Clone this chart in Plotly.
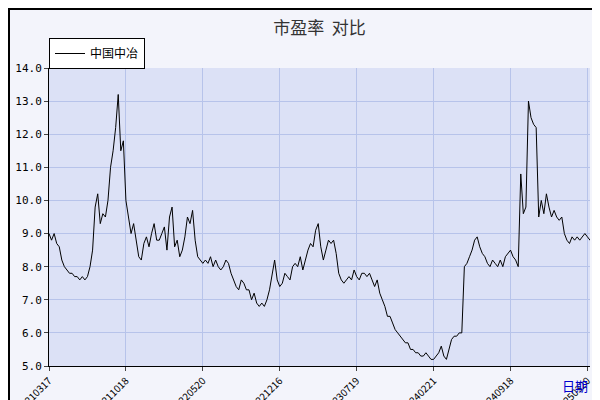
import plotly.graph_objects as go

values = [9.0,8.8,9.0,8.7,8.6,
8.2,8.0,7.9,7.8,7.8,7.7,7.7,7.6,7.7,7.6,
7.7,8.0,8.5,9.8,10.2,
9.3,9.6,9.5,10.0,
11.0,11.5,12.2,13.2,
11.5,11.8,10.0,
9.5,9.0,9.3,8.8,
8.3,8.2,8.7,8.9,8.6,9.0,9.3,8.8,
8.8,9.0,9.2,8.5,9.5,9.8,8.6,8.8,8.3,
8.5,8.9,9.5,9.3,9.7,8.8,8.3,8.2,8.1,
8.2,8.1,8.3,8.0,8.2,8.0,7.9,8.0,8.2,8.1,7.8,
7.6,7.4,7.3,7.6,7.5,7.3,7.3,7.0,7.2,6.9,6.8,6.9,6.8,
7.0,7.3,7.8,8.2,7.6,7.4,7.5,7.8,
7.7,7.6,8.0,8.1,8.0,8.3,7.9,8.2,8.5,8.7,8.6,9.1,9.3,8.6,8.2,8.5,8.8,
8.7,8.8,8.4,7.8,7.6,7.5,7.6,7.7,7.6,7.9,7.7,7.6,7.8,7.8,7.7,
7.8,7.6,7.4,7.6,7.2,7.0,6.8,6.5,6.5,6.3,6.1,6.0,5.9,5.8,5.7,5.7,
5.5,5.5,5.4,5.4,5.3,5.3,5.4,5.3,5.2,5.2,5.3,5.4,5.6,5.3,5.2,5.5,5.8,5.9,5.9,6.0,6.0,
8.0,8.1,8.3,8.5,8.8,8.9,8.6,8.4,8.3,8.1,8.0,8.2,8.1,8.0,8.2,8.0,8.3,8.4,8.5,8.3,
8.2,8.0,10.8,9.6,9.8,
13.0,12.5,12.3,12.2,9.5,10.0,9.6,10.2,9.8,9.5,9.7,9.5,9.4,9.5,
9.0,8.8,8.7,8.9,8.8,8.9,8.8,8.9,9.0,8.9,8.8,9.0,9.2,9.4,8.9,9.0,8.9,10.5]
tick_labels = ["20210317","20211018","20220520","20221216","20230719","20240221","20240918","20250320"]
tick_pos = [0,30,60,90,120,150,180,210]
y_ticks = [5,6,7,8,9,10,11,12,13,14]

n = len(values)
fig = go.Figure(go.Scatter(x=list(range(n)), y=values, mode="lines",
                           line=dict(color="black", width=1), name="中国中冶"))
font = "Noto Sans CJK SC"
fig.update_layout(
    width=600, height=400, margin=dict(l=41, r=18, t=60, b=42, autoexpand=False),
    paper_bgcolor="#f3f4fb", plot_bgcolor="#dce1f6",
    font=dict(family=font, size=11, color="black"),
    title=dict(text="市盈率  对比", x=0.5, xref="paper", y=0.965, xanchor="center",
               font=dict(size=17, color="#333333")),
    showlegend=True,
    legend=dict(x=0, y=1 + 30/298, xref="paper", yref="paper", yanchor="top",
                xanchor="left", bgcolor="white", bordercolor="black", borderwidth=1,
                font=dict(size=12), itemwidth=30),
    xaxis=dict(range=[0, 211], tickvals=tick_pos, ticktext=tick_labels, tickangle=-45,
               showgrid=True, gridcolor="#b7c3ea", ticks="outside", ticklen=4,
               tickfont=dict(size=10), zeroline=False, showline=True, linecolor="black"),
    yaxis=dict(range=[5, 14], tickvals=y_ticks, tickformat=".1f",
               showgrid=True, gridcolor="#b7c3ea", ticks="outside", ticklen=4,
               tickfont=dict(size=11, family="DejaVu Sans Mono"), zeroline=False,
               showline=True, linecolor="black"),
    shapes=[dict(type="rect", xref="paper", yref="paper", x0=-40/541, x1=1+16/541,
                 y0=-40/298, y1=1+59/298, line=dict(color="black", width=2))],
    annotations=[dict(text="日期", xref="paper", yref="paper", x=1, y=-0.065,
                      xanchor="right", yanchor="middle", showarrow=False,
                      font=dict(color="#0000cc", size=13))],
)
fig.write_html("out.html")
